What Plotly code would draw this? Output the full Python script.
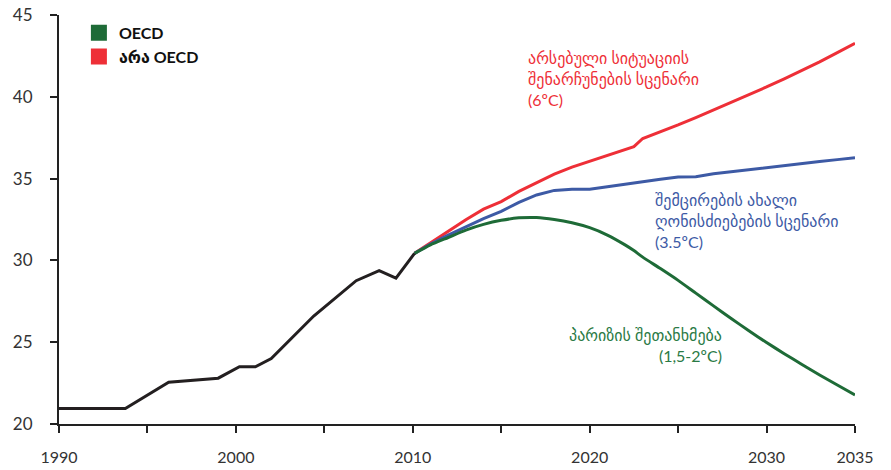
import plotly.graph_objects as go

# Historical emissions
hist_years = [1990, 1993.75, 1996.2, 1999, 2000.2, 2001.1, 2002, 2004.4, 2006.8, 2008.1, 2009.05, 2010.1]
hist_vals = [20.95, 20.95, 22.55, 22.8, 23.5, 23.5, 24.0, 26.6, 28.76, 29.37, 28.92, 30.43]

# Scenario years
scen_years = [2010.1, 2011, 2012, 2013, 2014, 2015, 2016, 2017, 2018, 2019, 2020, 2021, 2022,
              2022.5, 2023, 2024, 2025, 2026, 2027, 2028, 2029, 2030, 2031, 2032, 2033, 2034, 2035]

red_vals = [30.43, 31.07, 31.77, 32.48, 33.13, 33.59, 34.22, 34.76, 35.27, 35.7, 36.07, 36.44, 36.78,
            36.95, 37.45, 37.85, 38.28, 38.73, 39.19, 39.65, 40.13, 40.6, 41.1, 41.6, 42.14, 42.7, 43.27]

blue_vals = [30.43, 31.0, 31.55, 32.05, 32.55, 33.0, 33.55, 34.0, 34.28, 34.35, 34.35, 34.5, 34.66,
             34.76, 34.83, 34.96, 35.1, 35.12, 35.3, 35.43, 35.55, 35.67, 35.79, 35.91, 36.04, 36.16, 36.28]

green_vals = [30.43, 30.95, 31.4, 31.85, 32.2, 32.45, 32.6, 32.62, 32.5, 32.3, 32.0, 31.55, 30.95,
              30.6, 30.2, 29.5, 28.78, 28.0, 27.22, 26.45, 25.7, 24.98, 24.3, 23.64, 23.0, 22.38, 21.77]

tick_years = [1990, 1995, 2000, 2005, 2010, 2015, 2020, 2025, 2030, 2035]
tick_text = ["1990", "", "2000", "", "2010", "", "2020", "", "2030", "2035"]
y_ticks = [20, 25, 30, 35, 40, 45]

legend_names = ["OECD", "არა OECD"]
legend_colors = ["#1e6b37", "#ee2f37"]

RED = "#ee2f37"
BLUE = "#3d5aa5"
GREEN = "#1e6b37"
BLACK = "#231f20"

FONT = "Lato, 'DejaVu Sans', sans-serif"

fig = go.Figure()

fig.add_trace(go.Scatter(x=scen_years, y=red_vals, mode="lines",
                         line=dict(color=RED, width=3), showlegend=False, hoverinfo="skip"))
fig.add_trace(go.Scatter(x=scen_years, y=blue_vals, mode="lines",
                         line=dict(color=BLUE, width=3), showlegend=False, hoverinfo="skip"))
fig.add_trace(go.Scatter(x=scen_years, y=green_vals, mode="lines",
                         line=dict(color=GREEN, width=3, shape="spline", smoothing=0.6),
                         showlegend=False, hoverinfo="skip"))
fig.add_trace(go.Scatter(x=hist_years, y=hist_vals, mode="lines",
                         line=dict(color=BLACK, width=3), showlegend=False, hoverinfo="skip"))

for name, col in zip(legend_names, legend_colors):
    fig.add_trace(go.Scatter(x=[None], y=[None], mode="markers", name=name,
                             marker=dict(symbol="square", size=16, color=col)))

fig.add_annotation(x=2016.4, y=43.1, xref="x", yref="y", xanchor="left", yanchor="top",
                   align="left", showarrow=False,
                   text="არსებული სიტუაციის<br>შენარჩუნების სცენარი<br>(6ºC)",
                   font=dict(family=FONT, size=16, color=RED))
fig.add_annotation(x=2023.6, y=34.45, xref="x", yref="y", xanchor="left", yanchor="top",
                   align="left", showarrow=False,
                   text="შემცირების ახალი<br>ღონისძიებების სცენარი<br>(3.5ºC)",
                   font=dict(family=FONT, size=16, color=BLUE))
fig.add_annotation(x=2027.6, y=26.2, xref="x", yref="y", xanchor="right", yanchor="top",
                   align="right", showarrow=False,
                   text="პარიზის შეთანხმება<br>(1,5-2ºC)",
                   font=dict(family=FONT, size=16, color="#2a7a45"))

fig.update_layout(
    width=891, height=470,
    margin=dict(l=59, r=36, t=15, b=46, autoexpand=False),
    paper_bgcolor="white", plot_bgcolor="white",
    font=dict(family=FONT, size=16, color="#333333"),
    legend=dict(x=0.025, y=0.998, xanchor="left", yanchor="top",
                font=dict(family=FONT, size=16, color="#111111", weight="bold"),
                bgcolor="rgba(0,0,0,0)", tracegroupgap=0, itemwidth=30, itemsizing="trace"),
    xaxis=dict(range=[1990, 2035], tickmode="array", tickvals=tick_years, ticktext=tick_text,
               automargin=False,
               showgrid=False, zeroline=False, showline=True, linecolor="#222222", linewidth=2,
               ticks="outside", ticklen=7, tickwidth=1.5, tickcolor="#222222",
               ticklabelstandoff=11, tickfont=dict(family=FONT, size=16, color="#333333")),
    yaxis=dict(range=[20, 45], tickmode="array", tickvals=y_ticks, automargin=False,
               showgrid=False, zeroline=False, showline=True, linecolor="#222222", linewidth=2,
               ticks="outside", ticklen=7, tickwidth=1.5, tickcolor="#222222",
               ticklabelstandoff=14, tickfont=dict(family=FONT, size=17, color="#333333")),
)

fig.write_html("out.html", config={"displayModeBar": False},
               post_script="document.body.style.margin='0';")
